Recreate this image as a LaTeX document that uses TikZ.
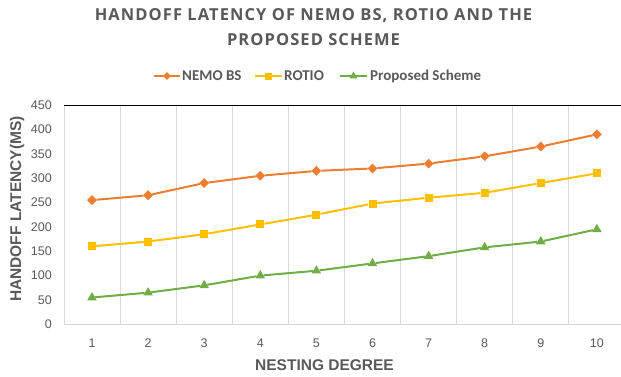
\documentclass[tikz,border=0pt]{standalone}
\usepackage{fontspec}
\setmainfont{Liberation Sans}
\newfontfamily\titlefont[LetterSpace=6.5]{Open Sans}
\newfontfamily\legendfont{Carlito}
\usetikzlibrary{shapes.geometric,positioning}
\definecolor{textgray}{HTML}{595959}
\definecolor{gridgray}{HTML}{D9D9D9}
\definecolor{nemocol}{HTML}{ED7D31}
\definecolor{rotiocol}{HTML}{FFC000}
\definecolor{propcol}{HTML}{70AD47}
\tikzset{
  nemomark/.style={diamond, fill=nemocol, inner sep=0pt, minimum size=10pt},
  rotiomark/.style={rectangle, fill=rotiocol, inner sep=0pt, minimum size=8pt},
  propmark/.style={regular polygon, regular polygon sides=3, fill=propcol, inner sep=0pt, minimum size=11pt},
  ticklabel/.style={font=\fontsize{12.5}{14}\selectfont, text=textgray, inner sep=0pt},
  axistitle/.style={font=\fontsize{15.5}{17}\selectfont\bfseries, text=textgray, inner sep=0pt},
  legendtext/.style={font=\legendfont\fontsize{15}{17}\selectfont\bfseries, text=textgray, inner sep=0pt, anchor=west},
  gridline/.style={gridgray, line width=0.8pt},
  series/.style={line width=2pt},
}
\begin{document}
\begin{tikzpicture}[x=1pt, y=1pt]
  \useasboundingbox (0,0) rectangle (621,376);
  % title
  \node[font=\titlefont\fontsize{16.5}{25}\selectfont\bfseries, text=textgray, align=center] (title)
    at (313.5,348.5) {HANDOFF LATENCY OF NEMO BS, ROTIO AND THE\\PROPOSED SCHEME};
  % legend
  \coordinate (lgna) at (154,300);
  \coordinate (lgnb) at (180,300);
  \coordinate (lgra) at (255,300);
  \coordinate (lgrb) at (282,300);
  \coordinate (lgpa) at (340,300);
  \coordinate (lgpb) at (367,300);
  \draw[nemocol, series] (lgna) -- (lgnb);
  \draw[rotiocol, series] (lgra) -- (lgrb);
  \draw[propcol, series] (lgpa) -- (lgpb);
  \node[nemomark, minimum size=8pt] (lgn) at (167,300) {};
  \node[rotiomark, minimum size=7pt] (lgr) at (268.5,300) {};
  \node[propmark, minimum size=9pt] (lgp) at (353.5,300) {};
  \node[legendtext] (lgntext) at (182,300) {NEMO BS};
  \node[legendtext] (lgrtext) at (284,300) {ROTIO};
  \node[legendtext] (lgptext) at (370,300) {Proposed Scheme};
  % axis titles
  \node[axistitle, rotate=90] (ytitle) at (17,167) {HANDOFF LATENCY(MS)};
  \node[axistitle] (xtitle) at (324.5,11) {NESTING DEGREE};
  \begin{scope}[shift={(35.9,51.7)}, x=56.1pt, y=0.487pt]
    % grid
    \draw[gridline] (0.5,0) -- (0.5,450);
    \draw[gridline] (1.5,0) -- (1.5,450);
    \draw[gridline] (2.5,0) -- (2.5,450);
    \draw[gridline] (3.5,0) -- (3.5,450);
    \draw[gridline] (4.5,0) -- (4.5,450);
    \draw[gridline] (5.5,0) -- (5.5,450);
    \draw[gridline] (6.5,0) -- (6.5,450);
    \draw[gridline] (7.5,0) -- (7.5,450);
    \draw[gridline] (8.5,0) -- (8.5,450);
    \draw[gridline] (9.5,0) -- (9.5,450);
    \draw[gridline] (0.5,0) -- (10.5,0);
    \draw[black, line width=1pt] (0.5,450) -- (10.5,450);
    % y ticks
    \node[ticklabel, anchor=east, xshift=-12pt] (y0) at (0.5,0) {0};
    \node[ticklabel, anchor=east, xshift=-12pt] (y50) at (0.5,50) {50};
    \node[ticklabel, anchor=east, xshift=-12pt] (y100) at (0.5,100) {100};
    \node[ticklabel, anchor=east, xshift=-12pt] (y150) at (0.5,150) {150};
    \node[ticklabel, anchor=east, xshift=-12pt] (y200) at (0.5,200) {200};
    \node[ticklabel, anchor=east, xshift=-12pt] (y250) at (0.5,250) {250};
    \node[ticklabel, anchor=east, xshift=-12pt] (y300) at (0.5,300) {300};
    \node[ticklabel, anchor=east, xshift=-12pt] (y350) at (0.5,350) {350};
    \node[ticklabel, anchor=east, xshift=-12pt] (y400) at (0.5,400) {400};
    \node[ticklabel, anchor=east, xshift=-12pt] (y450) at (0.5,450) {450};
    % x ticks
    \node[ticklabel, yshift=-19pt] (x1) at (1,0) {1};
    \node[ticklabel, yshift=-19pt] (x2) at (2,0) {2};
    \node[ticklabel, yshift=-19pt] (x3) at (3,0) {3};
    \node[ticklabel, yshift=-19pt] (x4) at (4,0) {4};
    \node[ticklabel, yshift=-19pt] (x5) at (5,0) {5};
    \node[ticklabel, yshift=-19pt] (x6) at (6,0) {6};
    \node[ticklabel, yshift=-19pt] (x7) at (7,0) {7};
    \node[ticklabel, yshift=-19pt] (x8) at (8,0) {8};
    \node[ticklabel, yshift=-19pt] (x9) at (9,0) {9};
    \node[ticklabel, yshift=-19pt] (x10) at (10,0) {10};
    % NEMO BS
    \path
      (1,255) node[nemomark] (n1){}
      (2,265) node[nemomark] (n2){}
      (3,290) node[nemomark] (n3){}
      (4,305) node[nemomark] (n4){}
      (5,315) node[nemomark] (n5){}
      (6,320) node[nemomark] (n6){}
      (7,330) node[nemomark] (n7){}
      (8,345) node[nemomark] (n8){}
      (9,365) node[nemomark] (n9){}
      (10,390) node[nemomark] (n10){};
    % ROTIO
    \path
      (1,160) node[rotiomark] (r1){}
      (2,170) node[rotiomark] (r2){}
      (3,185) node[rotiomark] (r3){}
      (4,205) node[rotiomark] (r4){}
      (5,225) node[rotiomark] (r5){}
      (6,248) node[rotiomark] (r6){}
      (7,260) node[rotiomark] (r7){}
      (8,270) node[rotiomark] (r8){}
      (9,290) node[rotiomark] (r9){}
      (10,310) node[rotiomark] (r10){};
    % proposed scheme
    \path
      (1,55) node[propmark] (p1){}
      (2,65) node[propmark] (p2){}
      (3,80) node[propmark] (p3){}
      (4,100) node[propmark] (p4){}
      (5,110) node[propmark] (p5){}
      (6,125) node[propmark] (p6){}
      (7,140) node[propmark] (p7){}
      (8,158) node[propmark] (p8){}
      (9,170) node[propmark] (p9){}
      (10,195) node[propmark] (p10){};
    \begin{scope}[nemocol, series]
      \draw (n1) to (n2);
      \draw (n2) to (n3);
      \draw (n3) to (n4);
      \draw (n4) to (n5);
      \draw (n5) to (n6);
      \draw (n6) to (n7);
      \draw (n7) to (n8);
      \draw (n8) to (n9);
      \draw (n9) to (n10);
    \end{scope}
    \begin{scope}[rotiocol, series]
      \draw (r1) to (r2);
      \draw (r2) to (r3);
      \draw (r3) to (r4);
      \draw (r4) to (r5);
      \draw (r5) to (r6);
      \draw (r6) to (r7);
      \draw (r7) to (r8);
      \draw (r8) to (r9);
      \draw (r9) to (r10);
    \end{scope}
    \begin{scope}[propcol, series]
      \draw (p1) to (p2);
      \draw (p2) to (p3);
      \draw (p3) to (p4);
      \draw (p4) to (p5);
      \draw (p5) to (p6);
      \draw (p6) to (p7);
      \draw (p7) to (p8);
      \draw (p8) to (p9);
      \draw (p9) to (p10);
    \end{scope}
  \end{scope}
\end{tikzpicture}
\end{document}
